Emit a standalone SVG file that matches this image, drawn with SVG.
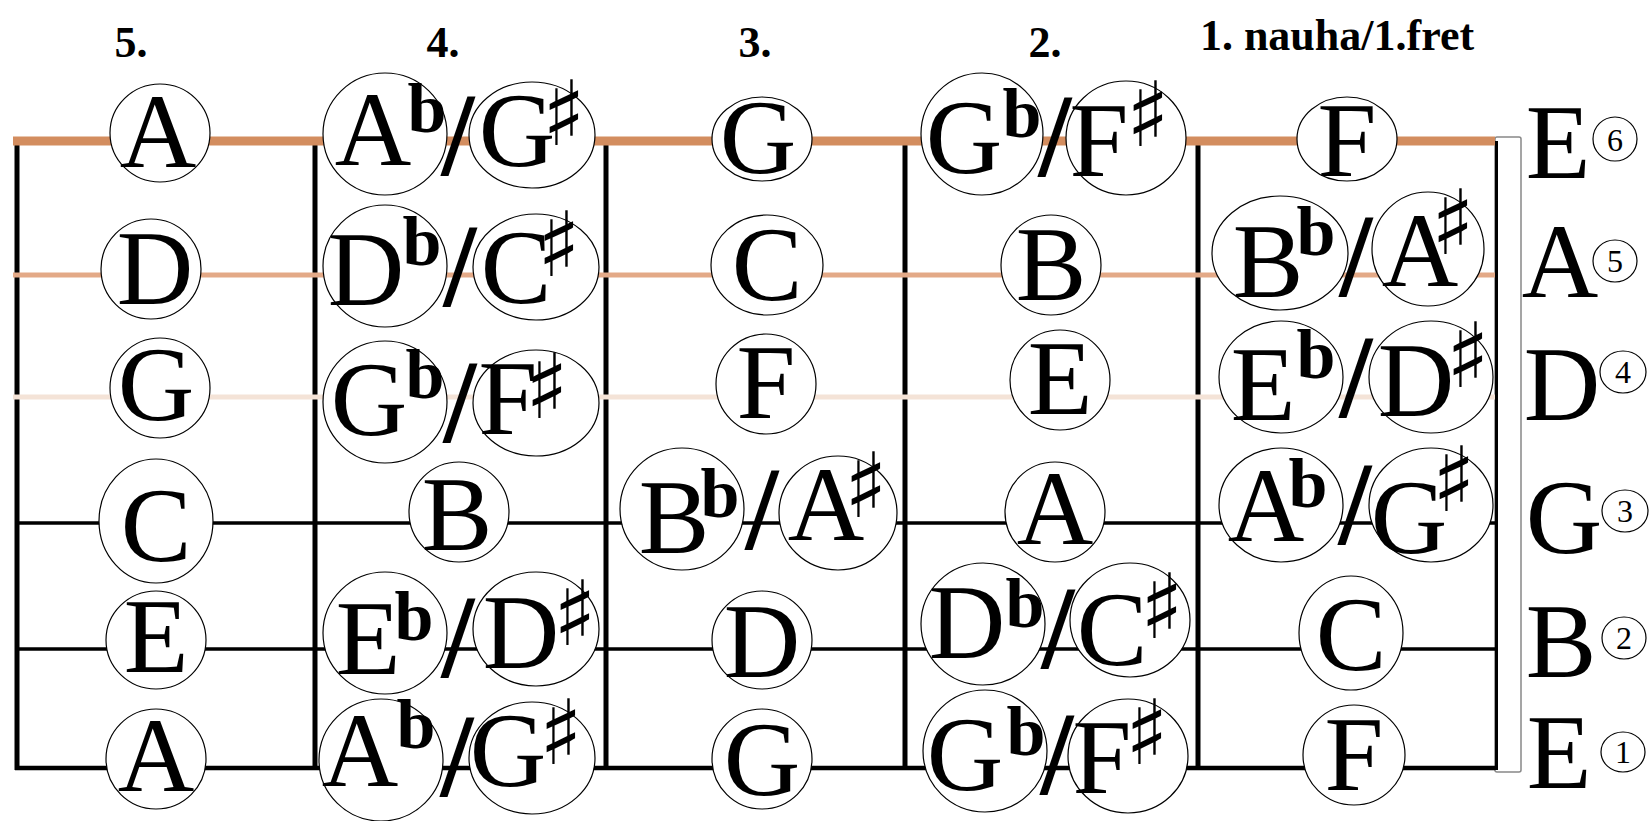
<svg xmlns="http://www.w3.org/2000/svg" width="1652" height="821" viewBox="0 0 1652 821">
<style>
.fret{stroke:#000;stroke-width:5;fill:none}
.s1{stroke:#d38d5f;stroke-width:9}
.s2{stroke:#e3a987;stroke-width:5}
.s3{stroke:#f4e3d7;stroke-width:5}
.s4{stroke:#000;stroke-width:3.5}
.s6{stroke:#000;stroke-width:4.5}
.note ellipse{fill:#fff;stroke:#000;stroke-width:1.2}
.n{font-family:"Liberation Serif",serif;font-size:106px;text-anchor:middle;fill:#000}
.fl{font-family:"Liberation Serif",serif;font-weight:bold;font-size:70px}
.sh{font-family:"DejaVu Sans",sans-serif;font-size:90px}
.sl{font-family:"Liberation Serif",serif;font-weight:bold;font-size:118px;text-anchor:middle;fill:#000}
.hd{font-family:"Liberation Serif",serif;font-weight:bold;font-size:44px;text-anchor:middle;fill:#000}
.lbl{font-family:"Liberation Serif",serif;font-size:106px;text-anchor:middle;fill:#000}
.cn ellipse{fill:#fff;stroke:#000;stroke-width:1.2}
.cd{font-family:"Liberation Serif",serif;font-size:32px;text-anchor:middle;fill:#000}
</style>
<rect width="1652" height="821" fill="#fff"/>
<g id="headers">
<text class="hd" x="131" y="57">5.</text>
<text class="hd" x="443" y="57">4.</text>
<text class="hd" x="755" y="57">3.</text>
<text class="hd" x="1045" y="57">2.</text>
<text class="hd" x="1337" y="50">1. nauha/1.fret</text>
</g>
<g id="fretboard">
<line class="fret" x1="17" y1="141" x2="17" y2="770"/>
<line class="fret" x1="315" y1="141" x2="315" y2="770"/>
<line class="fret" x1="606" y1="141" x2="606" y2="770"/>
<line class="fret" x1="905" y1="141" x2="905" y2="770"/>
<line class="fret" x1="1198" y1="141" x2="1198" y2="770"/>
<rect x="1495" y="137" width="26" height="635" rx="2" fill="#fff" stroke="#888" stroke-width="1.5"/>
<line x1="1496.5" y1="141" x2="1496.5" y2="770" stroke="#000" stroke-width="3"/>
</g>
<g id="strings">
<line class="s1" x1="13" y1="141" x2="1495" y2="141"/>
<line class="s2" x1="13" y1="275" x2="1495" y2="275"/>
<line class="s3" x1="13" y1="397" x2="1495" y2="397"/>
<line class="s4" x1="15" y1="523" x2="1495" y2="523"/>
<line class="s4" x1="15" y1="649" x2="1495" y2="649"/>
<line class="s6" x1="15" y1="768" x2="1495" y2="768"/>
</g>
<g id="notes">
<!-- row E6 -->
<g id="e6-f5" class="note"><ellipse cx="160" cy="133" rx="50" ry="49"/><text class="n" x="158" y="167">A</text></g>
<g id="e6-f4" class="note"><ellipse cx="385" cy="134" rx="62" ry="61"/><ellipse cx="532" cy="135" rx="63" ry="53"/><text class="n" y="165"><tspan x="373">A</tspan><tspan class="fl" x="427" y="132">b</tspan></text><text class="n" y="166"><tspan x="517">G</tspan><tspan class="sh" x="564" y="145">♯</tspan></text><text class="sl" x="458" y="175">/</text></g>
<g id="e6-f3" class="note"><ellipse cx="762" cy="139" rx="50" ry="42"/><text class="n" x="758" y="173">G</text></g>
<g id="e6-f2" class="note"><ellipse cx="982" cy="134" rx="61" ry="61"/><ellipse cx="1126" cy="138" rx="60" ry="57"/><text class="n" y="173"><tspan x="964">G</tspan><tspan class="fl" x="1022" y="137">b</tspan></text><text class="n" y="176"><tspan x="1099">F</tspan><tspan class="sh" x="1148" y="146">♯</tspan></text><text class="sl" x="1055" y="176">/</text></g>
<g id="e6-f1" class="note"><ellipse cx="1347" cy="139" rx="50" ry="42"/><text class="n" x="1347" y="176">F</text></g>
<!-- row A5 -->
<g id="a5-f5" class="note"><ellipse cx="151" cy="269" rx="50" ry="50"/><text class="n" x="155" y="304">D</text></g>
<g id="a5-f4" class="note"><ellipse cx="385" cy="266" rx="62" ry="61"/><ellipse cx="536" cy="267" rx="63" ry="53"/><text class="n" y="305"><tspan x="366">D</tspan><tspan class="fl" x="422" y="265">b</tspan></text><text class="n" y="303"><tspan x="516">C</tspan><tspan class="sh" x="559" y="276">♯</tspan></text><text class="sl" x="460" y="306">/</text></g>
<g id="a5-f3" class="note"><ellipse cx="767" cy="265" rx="56" ry="50"/><text class="n" x="767" y="300">C</text></g>
<g id="a5-f2" class="note"><ellipse cx="1051" cy="265" rx="50" ry="50"/><text class="n" x="1051" y="300">B</text></g>
<g id="a5-f1" class="note"><ellipse cx="1280" cy="253" rx="68" ry="57"/><ellipse cx="1428" cy="249" rx="56" ry="57"/><text class="n" y="297"><tspan x="1268">B</tspan><tspan class="fl" x="1316" y="255">b</tspan></text><text class="n" y="286"><tspan x="1420">A</tspan><tspan class="sh" x="1453" y="254">♯</tspan></text><text class="sl" x="1356" y="296">/</text></g>
<!-- row D4 -->
<g id="d4-f5" class="note"><ellipse cx="160" cy="388" rx="50" ry="50"/><text class="n" x="156" y="420">G</text></g>
<g id="d4-f4" class="note"><ellipse cx="385" cy="402" rx="62" ry="61"/><ellipse cx="536" cy="403" rx="63" ry="53"/><text class="n" y="435"><tspan x="369">G</tspan><tspan class="fl" x="425" y="398">b</tspan></text><text class="n" y="434"><tspan x="508">F</tspan><tspan class="sh" x="547" y="418">♯</tspan></text><text class="sl" x="460" y="442">/</text></g>
<g id="d4-f3" class="note"><ellipse cx="766" cy="384" rx="50" ry="50"/><text class="n" x="766" y="418">F</text></g>
<g id="d4-f2" class="note"><ellipse cx="1060" cy="380" rx="50" ry="50"/><text class="n" x="1060" y="414">E</text></g>
<g id="d4-f1" class="note"><ellipse cx="1281" cy="377" rx="62" ry="56"/><ellipse cx="1431" cy="377" rx="62" ry="56"/><text class="n" y="420"><tspan x="1263">E</tspan><tspan class="fl" x="1316" y="378">b</tspan></text><text class="n" y="416"><tspan x="1416">D</tspan><tspan class="sh" x="1468" y="387">♯</tspan></text><text class="sl" x="1356" y="417">/</text></g>
<!-- row G3 -->
<g id="g3-f5" class="note"><ellipse cx="156" cy="521" rx="57" ry="62"/><text class="n" x="156" y="561">C</text></g>
<g id="g3-f4" class="note"><ellipse cx="459" cy="512" rx="50" ry="50"/><text class="n" x="457" y="550">B</text></g>
<g id="g3-f3" class="note"><ellipse cx="682" cy="509" rx="62" ry="61"/><ellipse cx="838" cy="513" rx="59" ry="57"/><text class="n" y="553"><tspan x="674">B</tspan><tspan class="fl" x="720" y="517">b</tspan></text><text class="n" y="540"><tspan x="826">A</tspan><tspan class="sh" x="866" y="517">♯</tspan></text><text class="sl" x="762" y="549">/</text></g>
<g id="g3-f2" class="note"><ellipse cx="1055" cy="512" rx="50" ry="50"/><text class="n" x="1055" y="544">A</text></g>
<g id="g3-f1" class="note"><ellipse cx="1281" cy="505" rx="62" ry="57"/><ellipse cx="1431" cy="505" rx="62" ry="57"/><text class="n" y="541"><tspan x="1266">A</tspan><tspan class="fl" x="1308" y="507">b</tspan></text><text class="n" y="553"><tspan x="1409">G</tspan><tspan class="sh" x="1454" y="511">♯</tspan></text><text class="sl" x="1355" y="544">/</text></g>
<!-- row B2 -->
<g id="b2-f5" class="note"><ellipse cx="156" cy="640" rx="50" ry="49"/><text class="n" x="156" y="672">E</text></g>
<g id="b2-f4" class="note"><ellipse cx="385" cy="633" rx="62" ry="61"/><ellipse cx="536" cy="629" rx="63" ry="57"/><text class="n" y="674"><tspan x="368">E</tspan><tspan class="fl" x="414" y="640">b</tspan></text><text class="n" y="668"><tspan x="521">D</tspan><tspan class="sh" x="575" y="645">♯</tspan></text><text class="sl" x="458" y="677">/</text></g>
<g id="b2-f3" class="note"><ellipse cx="762" cy="640" rx="50" ry="49"/><text class="n" x="762" y="677">D</text></g>
<g id="b2-f2" class="note"><ellipse cx="983" cy="624" rx="62" ry="61"/><ellipse cx="1130" cy="620" rx="60" ry="57"/><text class="n" y="658"><tspan x="967">D</tspan><tspan class="fl" x="1025" y="627">b</tspan></text><text class="n" y="665"><tspan x="1112">C</tspan><tspan class="sh" x="1162" y="638">♯</tspan></text><text class="sl" x="1058" y="668">/</text></g>
<g id="b2-f1" class="note"><ellipse cx="1351" cy="633" rx="52" ry="57"/><text class="n" x="1351" y="670">C</text></g>
<!-- row E1 -->
<g id="e1-f5" class="note"><ellipse cx="156" cy="759" rx="50" ry="50"/><text class="n" x="156" y="791">A</text></g>
<g id="e1-f4" class="note"><ellipse cx="381" cy="760" rx="62" ry="61"/><ellipse cx="532" cy="758" rx="63" ry="56"/><text class="n" y="786"><tspan x="360">A</tspan><tspan class="fl" x="416" y="748">b</tspan></text><text class="n" y="786"><tspan x="508">G</tspan><tspan class="sh" x="561" y="764">♯</tspan></text><text class="sl" x="457" y="796">/</text></g>
<g id="e1-f3" class="note"><ellipse cx="762" cy="759" rx="50" ry="50"/><text class="n" x="762" y="795">G</text></g>
<g id="e1-f2" class="note"><ellipse cx="985" cy="751" rx="62" ry="61"/><ellipse cx="1128" cy="756" rx="60" ry="57"/><text class="n" y="790"><tspan x="965">G</tspan><tspan class="fl" x="1026" y="755">b</tspan></text><text class="n" y="793"><tspan x="1102">F</tspan><tspan class="sh" x="1147" y="764">♯</tspan></text><text class="sl" x="1057" y="794">/</text></g>
<g id="e1-f1" class="note"><ellipse cx="1354" cy="755" rx="51" ry="50"/><text class="n" x="1354" y="790">F</text></g>
</g>
<g id="string-labels">
<g id="lbl-6" class="cn"><text class="lbl" x="1558" y="178">E</text><ellipse cx="1615" cy="139" rx="22" ry="22"/><text class="cd" x="1615" y="151">6</text></g>
<g id="lbl-5" class="cn"><text class="lbl" x="1560" y="297">A</text><ellipse cx="1615" cy="261" rx="22" ry="21"/><text class="cd" x="1615" y="272">5</text></g>
<g id="lbl-4" class="cn"><text class="lbl" x="1562" y="420">D</text><ellipse cx="1623" cy="372" rx="23" ry="21"/><text class="cd" x="1623" y="383">4</text></g>
<g id="lbl-3" class="cn"><text class="lbl" x="1564" y="553">G</text><ellipse cx="1625" cy="511" rx="23" ry="21"/><text class="cd" x="1625" y="522">3</text></g>
<g id="lbl-2" class="cn"><text class="lbl" x="1561" y="677">B</text><ellipse cx="1624" cy="638" rx="22" ry="21"/><text class="cd" x="1624" y="649">2</text></g>
<g id="lbl-1" class="cn"><text class="lbl" x="1559" y="788">E</text><ellipse cx="1623" cy="752" rx="22" ry="20"/><text class="cd" x="1623" y="763">1</text></g>
</g>
</svg>
